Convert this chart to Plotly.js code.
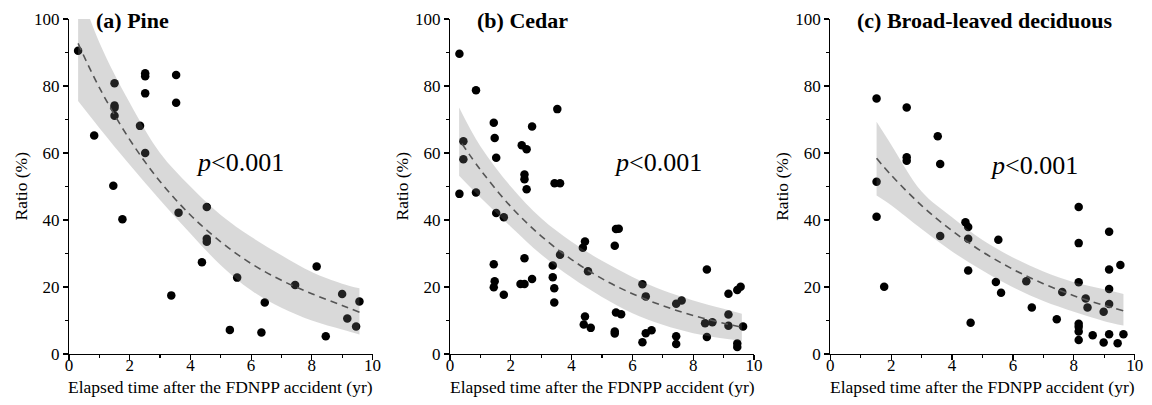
<!DOCTYPE html>
<html>
<head>
<meta charset="utf-8">
<script src="https://cdn.plot.ly/plotly-3.0.1.min.js"></script>
<style>
html, body { margin: 0; padding: 0; background: #fff; }
#chart { width: 1152px; height: 405px; }
</style>
</head>
<body>
<div id="chart"></div>
<script>
// ---------- Data ----------
var panelTitles = ["(a) Pine", "(b) Cedar", "(c) Broad-leaved deciduous"];
var xTitle = "Elapsed time after the FDNPP accident (yr)";
var yTitle = "Ratio (%)";
var pLabel = "<i>p</i>&lt;0.001";

// (a) Pine observations
var pineX = [0.30, 0.83, 1.50, 1.50, 1.50, 1.50, 1.46, 1.76, 2.34, 2.51, 2.51, 2.51, 2.51,
             3.53, 3.53, 3.37, 3.61, 4.38, 4.54, 4.54, 4.54, 5.30, 5.54, 6.34, 6.45, 7.45,
             8.16, 8.46, 9.00, 9.17, 9.46, 9.57];
var pineY = [90.5, 65.2, 80.8, 74.2, 73.5, 71.1, 50.2, 40.2, 68.1, 83.8, 82.9, 77.8, 60.0,
             83.3, 75.0, 17.5, 42.2, 27.4, 43.9, 34.4, 33.5, 7.2, 22.8, 6.4, 15.4, 20.6,
             26.1, 5.3, 17.9, 10.6, 8.2, 15.7];
// (a) fitted curve and confidence band
var pineFitX = [0.3, 1, 2, 3, 4, 5, 6, 7, 8, 9, 9.57];
var pineFit = [92.7, 79.5, 64, 51.5, 41.5, 33.5, 27, 22, 18, 14.5, 12.5];
var pineUpper = [110, 93, 75, 60, 50, 41.5, 35, 29.5, 24.5, 21, 19.6];
var pineLower = [75.5, 67.5, 56.5, 46, 36, 26.5, 19, 13.8, 10, 7.3, 5.8];

// (b) Cedar observations
var cedarX = [0.31, 0.855, 0.44, 0.44, 0.31, 0.855, 1.44, 1.47, 1.52, 2.36, 2.52, 2.45, 2.45,
              2.52, 2.70, 3.53, 3.44, 3.62, 1.52, 1.77, 1.44, 1.47, 1.44, 1.77, 2.45, 2.32,
              2.45, 2.70, 3.38, 3.38, 3.43, 3.43, 3.62, 4.44, 4.37, 4.44, 4.40, 4.63, 4.54,
              5.42, 5.46, 5.55, 5.46, 5.63, 5.42, 5.42, 6.33, 6.44, 6.33, 6.44, 6.63, 7.44,
              7.62, 7.44, 7.44, 8.45, 8.39, 8.63, 8.45, 9.16, 9.16, 9.16, 9.45, 9.56, 9.45,
              9.45, 9.64];
var cedarY = [89.6, 78.7, 63.5, 58.1, 47.8, 48.2, 69.0, 64.5, 58.6, 62.3, 61.1, 53.6, 52.2,
              49.2, 67.9, 73.1, 51.0, 51.0, 42.1, 40.8, 26.8, 21.7, 19.9, 17.7, 28.6, 20.9,
              20.9, 22.4, 26.4, 22.9, 19.6, 15.4, 29.6, 33.6, 31.7, 11.2, 8.8, 7.8, 24.7,
              32.3, 37.3, 37.4, 12.4, 11.9, 6.7, 6.1, 20.8, 17.2, 3.5, 6.2, 7.1, 15.0,
              16.0, 5.3, 3.0, 25.2, 9.2, 9.5, 5.1, 18.0, 11.8, 8.4, 19.1, 20.1, 3.1,
              2.1, 8.2];
var cedarFitX = [0.39, 1, 2, 3, 4, 5, 6, 7, 8, 9, 9.6];
var cedarFit = [62.8, 55, 44, 35.2, 28.2, 22.5, 18, 14.4, 11.5, 9.2, 8];
var cedarBandX = [0.3, 1, 2, 3, 4, 5, 6, 7, 8, 9, 9.6];
var cedarUpper = [73.6, 62, 50, 40.5, 33.5, 27.8, 23, 19, 16, 13.5, 12];
var cedarLower = [53.2, 46.7, 38, 29.7, 22.8, 17, 12.2, 8.7, 6.2, 4.6, 3.9];

// (c) Broad-leaved deciduous observations
var broadX = [1.52, 2.51, 2.51, 2.51, 3.53, 3.61, 1.52, 1.52, 1.77, 3.61, 4.44, 4.53, 4.53,
              4.53, 4.61, 5.44, 5.52, 5.61, 6.44, 6.62, 7.44, 7.62, 8.16, 8.16, 8.16, 8.16,
              8.16, 8.16, 8.16, 8.39, 8.45, 8.62, 8.98, 8.98, 9.16, 9.16, 9.16, 9.16, 9.16,
              9.44, 9.53, 9.63];
var broadY = [76.3, 73.6, 58.7, 57.7, 65.0, 56.7, 51.4, 41.0, 20.1, 35.2, 39.3, 37.9, 34.4,
              24.9, 9.3, 21.5, 34.1, 18.3, 21.7, 13.9, 10.4, 18.5, 43.9, 33.1, 21.4, 9.0,
              8.1, 6.7, 4.2, 16.6, 13.9, 5.6, 12.6, 3.4, 36.5, 25.2, 19.4, 14.9, 5.9,
              3.2, 26.6, 5.9];
var broadFitX = [1.52, 2, 3, 4, 5, 6, 7, 8, 9, 9.63];
var broadFit = [58.4, 53.4, 44.3, 36.8, 30.5, 25.3, 21, 17.4, 14.5, 12.9];
var broadUpper = [69.3, 62.5, 48.5, 40.8, 34, 28.8, 24.6, 21.4, 19.3, 17.9];
var broadLower = [47.3, 44.4, 37.3, 30.6, 24.9, 19.9, 15.8, 12.6, 9.8, 8.5];

var xTicks = [0, 2, 4, 6, 8, 10];
var yTicks = [0, 20, 40, 60, 80, 100];

// ---------- Styling ----------
var SERIF = "Liberation Serif";
var bandColor = "rgba(120,120,120,0.28)";
var fitColor = "#555555";

var panels = [
  {ox: pineX, oy: pineY, bx: pineFitX, up: pineUpper, lo: pineLower, fx: pineFitX, fy: pineFit, px: 5.63, py: 57.3},
  {ox: cedarX, oy: cedarY, bx: cedarBandX, up: cedarUpper, lo: cedarLower, fx: cedarFitX, fy: cedarFit, px: 6.84, py: 57.3},
  {ox: broadX, oy: broadY, bx: broadFitX, up: broadUpper, lo: broadLower, fx: broadFitX, fy: broadFit, px: 6.7, py: 56.3}
];

var xDomains = [[69/1152, 372.5/1152], [450/1152, 754/1152], [830.3/1152, 1134.7/1152]];
var yDomain = [51/405, 386/405];

var traces = [];
var annotations = [];
var layout = {
  width: 1152, height: 405,
  margin: {l: 0, r: 0, t: 0, b: 0},
  paper_bgcolor: "#fff", plot_bgcolor: "#fff",
  showlegend: false,
  font: {family: SERIF, color: "#000", size: 17}
};

panels.forEach(function (p, i) {
  var sfx = i === 0 ? "" : String(i + 1);
  var xa = "x" + sfx, ya = "y" + sfx;
  traces.push({x: p.ox, y: p.oy, xaxis: xa, yaxis: ya, type: "scatter", mode: "markers",
    marker: {color: "#000", size: 8.5}, hoverinfo: "skip"});
  traces.push({x: p.bx, y: p.lo, xaxis: xa, yaxis: ya, type: "scatter", mode: "lines",
    line: {width: 0, shape: "spline", color: bandColor}, hoverinfo: "skip"});
  traces.push({x: p.bx, y: p.up, xaxis: xa, yaxis: ya, type: "scatter", mode: "lines",
    line: {width: 0, shape: "spline", color: bandColor}, fill: "tonexty", fillcolor: bandColor, hoverinfo: "skip"});
  traces.push({x: p.fx, y: p.fy, xaxis: xa, yaxis: ya, type: "scatter", mode: "lines",
    line: {width: 1.6, shape: "spline", color: fitColor, dash: "7px,5px"}, hoverinfo: "skip"});

  layout["xaxis" + sfx] = {
    domain: xDomains[i], anchor: ya, range: [0, 10], fixedrange: true,
    showline: true, linecolor: "#000", linewidth: 1.2, mirror: false,
    showgrid: false, zeroline: false,
    tickmode: "array", tickvals: xTicks, ticktext: xTicks.map(String),
    ticks: "outside", ticklen: 5, tickwidth: 1.2, tickcolor: "#000",
    ticklabelstandoff: -10,
    minor: {dtick: 1, tick0: 0, ticks: "outside", ticklen: 3, tickwidth: 1.2, tickcolor: "#000", showgrid: false},
    tickfont: {family: SERIF, size: 17, color: "#000"},
    title: {text: "", font: {family: SERIF, size: 17.5, color: "#000"}}
  };
  layout["yaxis" + sfx] = {
    domain: yDomain, anchor: xa, range: [0, 100], fixedrange: true,
    showline: true, linecolor: "#000", linewidth: 1.2, mirror: false,
    showgrid: false, zeroline: false,
    tickmode: "array", tickvals: yTicks, ticktext: yTicks.map(String),
    ticks: "outside", ticklen: 5, tickwidth: 1.2, tickcolor: "#000",
    minor: {dtick: 10, tick0: 0, ticks: "outside", ticklen: 3, tickwidth: 1.2, tickcolor: "#000", showgrid: false},
    tickfont: {family: SERIF, size: 17, color: "#000"},
    title: {text: "", font: {family: SERIF, size: 17.5, color: "#000"}}
  };

  // axis titles placed relative to each subplot's domain
  annotations.push({xref: xa + " domain", yref: "paper", x: 0.5, y: 18.5 / 405, xanchor: "center", yanchor: "middle",
    showarrow: false, text: xTitle, font: {family: SERIF, size: 17.5, color: "#000"}});
  annotations.push({xref: xa + " domain", yref: ya + " domain", x: 0, xshift: -49, y: 0.5, xanchor: "center", yanchor: "middle",
    textangle: -90, showarrow: false, text: yTitle, font: {family: SERIF, size: 17.5, color: "#000"}});

  annotations.push({xref: xa + " domain", yref: ya + " domain", x: 0, y: 1, xshift: 25, yshift: -1,
    xanchor: "left", yanchor: "middle", showarrow: false, text: "<b>" + panelTitles[i] + "</b>",
    font: {family: SERIF, size: 22, color: "#000"}});
  annotations.push({xref: xa, yref: ya, x: p.px, y: p.py, xanchor: "center", yanchor: "middle",
    showarrow: false, text: pLabel, font: {family: SERIF, size: 26, color: "#000"}});
});

layout.annotations = annotations;

Plotly.newPlot("chart", traces, layout, {staticPlot: true, displayModeBar: false});
</script>
</body>
</html>
